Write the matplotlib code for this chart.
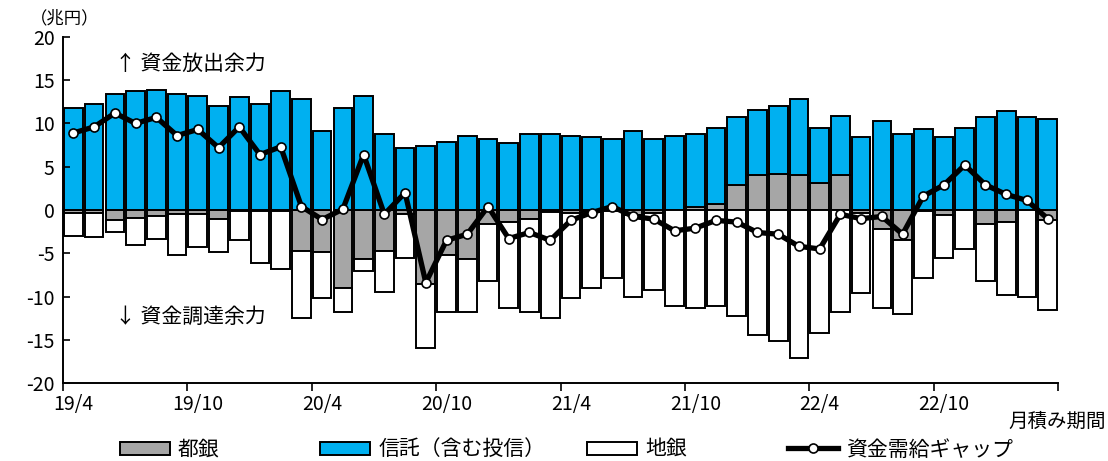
import numpy as np
import matplotlib
matplotlib.use("Agg")
import matplotlib.pyplot as plt
from matplotlib.patches import Patch
from matplotlib.lines import Line2D

plt.rcParams['font.family'] = ['Noto Sans CJK JP', 'DejaVu Sans']
plt.rcParams['axes.unicode_minus'] = False

# 月次 19/4 ～ 23/3 (兆円)
months = [f"{y}/{m}" for y, m in
          [(19, m) for m in range(4, 13)] + [(20, m) for m in range(1, 13)] +
          [(21, m) for m in range(1, 13)] + [(22, m) for m in range(1, 13)] +
          [(23, m) for m in range(1, 4)]]

toshigin = [-0.35, -0.35, -1.1, -0.9, -0.65, -0.5, -0.5, -1.0, -0.1, -0.1, -0.1, -4.7,
            -4.9, -9.0, -5.7, -4.7, -0.45, -8.5, -5.2, -5.7, -1.6, -1.4, -1.0, -0.2,
            -0.4, -0.25, -0.1, -0.55, -0.3, -0.05, 0.3, 0.7, 2.9, 4.0, 4.2, 4.0,
            3.1, 4.0, -0.3, -2.2, -3.5, -0.15, -0.55, -0.05, -1.6, -1.4, -0.05, -1.1]

shintaku = [11.8, 12.3, 13.4, 13.7, 13.9, 13.4, 13.2, 12.0, 13.0, 12.3, 13.7, 12.8,
            9.1, 11.8, 13.2, 8.8, 7.2, 7.45, 7.9, 8.6, 8.2, 7.7, 8.8, 8.8,
            8.6, 8.4, 8.15, 9.1, 8.15, 8.6, 8.5, 8.8, 7.8, 7.6, 7.8, 8.8,
            6.4, 6.9, 8.4, 10.3, 8.8, 9.3, 8.4, 9.5, 10.7, 11.4, 10.7, 10.5]

chigin = [-2.7, -2.75, -1.5, -3.1, -2.65, -4.7, -3.8, -3.9, -3.4, -6.0, -6.7, -7.8,
          -5.3, -2.8, -1.3, -4.8, -5.15, -7.5, -6.6, -6.1, -6.55, -9.9, -10.8, -12.3,
          -9.8, -8.75, -7.8, -9.45, -9.0, -11.05, -11.3, -11.1, -12.3, -14.4, -15.1, -17.1,
          -14.2, -11.8, -9.3, -9.1, -8.5, -7.75, -5.05, -4.45, -6.6, -8.4, -9.95, -10.5]

gap = [8.9, 9.6, 11.2, 10.0, 10.7, 8.6, 9.3, 7.2, 9.6, 6.4, 7.3, 0.4,
       -1.1, 0.1, 6.4, -0.5, 2.0, -8.4, -3.5, -2.8, 0.4, -3.3, -2.6, -3.5,
       -1.2, -0.3, 0.4, -0.75, -1.05, -2.4, -2.1, -1.2, -1.4, -2.6, -2.8, -4.2,
       -4.5, -0.5, -1.0, -0.75, -2.8, 1.6, 2.9, 5.2, 2.9, 1.8, 1.1, -1.0]

tick_labels = ["19/4", "19/10", "20/4", "20/10", "21/4", "21/10", "22/4", "22/10"]

gray = "#A6A6A6"
blue = "#00B0F0"

x = np.arange(len(months)) + 0.5
tg = np.array(toshigin)
pos_base = np.clip(tg, 0, None)
neg_base = np.clip(tg, None, 0)

fig = plt.figure(figsize=(11.08, 4.61), dpi=100)
ax = fig.add_axes([0.0569, 0.169, 0.898, 0.751])

bar_kw = dict(width=0.9, edgecolor="black", linewidth=1.4)
ax.bar(x, tg, color=gray, **bar_kw)
ax.bar(x, shintaku, bottom=pos_base, color=blue, **bar_kw)
ax.bar(x, chigin, bottom=neg_base, color="white", **bar_kw)
ax.plot(x, gap, color="black", lw=3.8, marker="o", ms=6.5,
        mfc="white", mec="black", mew=1.2, zorder=5)

ax.set_xlim(0, len(months))
ax.set_ylim(-20, 20)
ax.set_yticks(range(-20, 21, 5))
ax.tick_params(axis="y", direction="in", length=5, width=1.2, labelsize=14, pad=6)

# 目盛線は期の境目、ラベルは月の中央
ax.set_xticks(range(0, len(months) + 1, 6))
ax.set_xticklabels([])
ax.set_xticks(np.arange(0, 43, 6) + 0.5, minor=True)
ax.set_xticklabels(tick_labels, minor=True)
ax.tick_params(axis="x", which="major", direction="out", length=6, width=1.2)
ax.tick_params(axis="x", which="minor", length=0, labelsize=14, pad=8)

for side in ["top", "right"]:
    ax.spines[side].set_visible(False)
for side in ["left", "bottom"]:
    ax.spines[side].set_linewidth(1.4)

fig.text(0.027, 0.96, "（兆円）", fontsize=12.5, va="center", ha="left")
fig.text(0.998, 0.085, "月積み期間", fontsize=14, va="center", ha="right")
ax.text(2.5, 16.9, "↑ 資金放出余力", fontsize=15, va="center", ha="left")
ax.text(2.5, -12.3, "↓ 資金調達余力", fontsize=15, va="center", ha="left")

items = [
    (Patch(facecolor=gray, edgecolor="black", linewidth=1.4), "都銀", 0.108),
    (Patch(facecolor=blue, edgecolor="black", linewidth=1.4), "信託（含む投信）", 0.289),
    (Patch(facecolor="white", edgecolor="black", linewidth=1.4), "地銀", 0.530),
    (Line2D([], [], color="black", lw=3.8, marker="o", ms=6.5, mfc="white",
            mec="black", mew=1.2), "資金需給ギャップ", 0.711),
]
for handle, label, xpos in items:
    fig.legend([handle], [label], loc="center left", bbox_to_anchor=(xpos, 0.025),
               frameon=False, fontsize=15, handlelength=2.4, handleheight=0.6,
               handletextpad=0.4, borderpad=0, borderaxespad=0)

fig.savefig("out.png", dpi=100)
